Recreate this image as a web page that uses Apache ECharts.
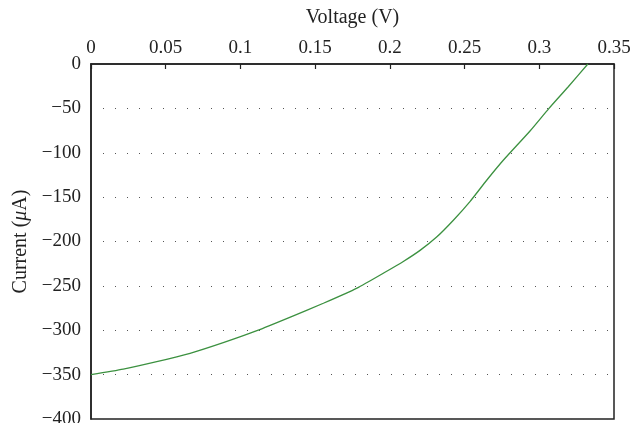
<!DOCTYPE html>
<html>
<head>
<meta charset="utf-8">
<script src="https://cdn.jsdelivr.net/npm/echarts@6/dist/echarts.min.js"></script>
<style>html,body{margin:0;padding:0;background:#fff}#c{width:634px;height:423px}</style>
</head>
<body>
<div id="c"></div>
<script>
const voltage = [0, 0.0216, 0.044, 0.0663, 0.0885, 0.111, 0.133, 0.1555, 0.178, 0.1979, 0.209, 0.2202, 0.2313, 0.2425, 0.2536, 0.2648, 0.2759, 0.2938, 0.3065, 0.3194, 0.3325];
const current = [-350, -343.7, -335.4, -326, -314, -300.5, -285.5, -269.6, -252.5, -233.5, -222.5, -210, -195, -176, -155, -131, -108.5, -75.5, -50, -25.6, 0];
const xTicks = {min: 0, max: 0.35, interval: 0.05};
const yTicks = {min: -400, max: 0, interval: 50};

const FONT = '"Liberation Serif", "DejaVu Serif", serif';
const chart = echarts.init(document.getElementById('c'));
chart.setOption({
  animation: false,
  grid: {left: 91, top: 64, right: 20, bottom: 4, show: true, borderColor: '#222', borderWidth: 1.5,
         containLabel: false, outerBoundsMode: 'none'},
  xAxis: {
    type: 'value', position: 'top',
    min: xTicks.min, max: xTicks.max, interval: xTicks.interval,
    name: 'Voltage (V)', nameLocation: 'middle', nameGap: 36,
    nameTextStyle: {fontFamily: FONT, fontSize: 20, color: '#222'},
    axisLine: {show: true, lineStyle: {color: '#222', width: 1.5}},
    axisTick: {show: true, inside: true, length: 5, lineStyle: {color: '#222', width: 1.2}},
    axisLabel: {fontFamily: FONT, fontSize: 19, color: '#222', margin: 6},
    splitLine: {show: false}
  },
  yAxis: {
    type: 'value',
    min: yTicks.min, max: yTicks.max, interval: yTicks.interval,
    name: '{n|Current (}{i|μ}{n|A)}', nameLocation: 'middle', nameGap: 57,
    nameTextStyle: {rich: {
      n: {fontFamily: FONT, fontSize: 20, color: '#222'},
      i: {fontFamily: FONT, fontSize: 20, color: '#222', fontStyle: 'italic'}
    }},
    axisLine: {show: true, lineStyle: {color: '#222', width: 1.5}},
    axisTick: {show: false},
    axisLabel: {fontFamily: FONT, fontSize: 19, color: '#222', margin: 10,
      formatter: v => String(v).replace('-', '\u2212')},
    splitLine: {show: true, lineStyle: {color: '#555', width: 1, type: [1, 11], dashOffset: -12}}
  },
  series: [{
    type: 'line', showSymbol: false, smooth: 0.2,
    lineStyle: {color: '#3c9140', width: 1.3},
    data: voltage.map((v, i) => [v, current[i]])
  }]
});
</script>
</body>
</html>
